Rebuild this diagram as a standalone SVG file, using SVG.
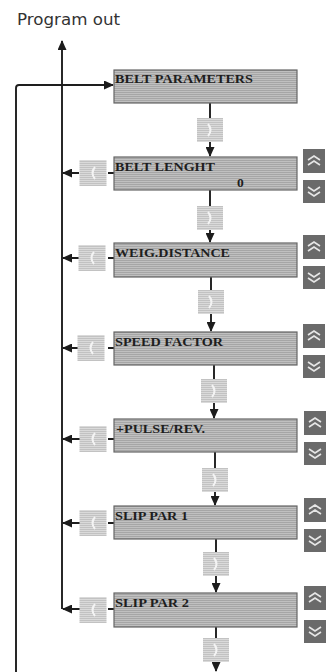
<svg xmlns="http://www.w3.org/2000/svg" width="335" height="672" viewBox="0 0 335 672">
<defs>
<pattern id="hatch" width="3" height="2" patternUnits="userSpaceOnUse">
<rect width="3" height="2" fill="#c0c0c0"/>
<rect width="3" height="1" fill="#a6a6a6"/>
</pattern>
<pattern id="lhatch" width="2" height="2" patternUnits="userSpaceOnUse">
<rect width="2" height="2" fill="#dadada"/>
<rect width="2" height="1" fill="#c2c2c2"/>
</pattern>
<marker id="ah" markerWidth="10" markerHeight="9" refX="9" refY="4.5" orient="auto" markerUnits="userSpaceOnUse">
<path d="M0,0 L10,4.5 L0,9 z" fill="#1c1c1c"/>
</marker>
<g id="fwd"><rect x="-13" y="-12" width="26" height="24" class="nx"/><path d="M-2,-6 Q3,0 -2,6" class="ch"/></g>
<g id="back"><rect x="-13.5" y="-13" width="27" height="26" class="nx"/><path d="M2,-6 Q-3,0 2,6" class="ch"/></g>
<g id="up"><rect x="0" y="0" width="22" height="24" class="btn"/><path d="M5,11 L11,7 L17,11 M5,16 L11,12 L17,16" class="bch"/></g>
<g id="dn"><rect x="0" y="0" width="22" height="23" class="btn"/><path d="M5,7 L11,11 L17,7 M5,12 L11,16 L17,12" class="bch"/></g>
</defs>
<style>
.box{fill:url(#hatch);stroke:#666;stroke-width:1.2}
.lbl{font-family:"Liberation Serif",serif;font-weight:bold;font-size:13.5px;fill:#1e1e1e}
.nx{fill:url(#lhatch)}
.ch{fill:none;stroke:#f4f4f4;stroke-width:2}
.btn{fill:#6a6a6a}
.bch{fill:none;stroke:#e6e6e6;stroke-width:1.6}
.ln{fill:none;stroke:#1e1e1e;stroke-width:1.9}
.ttl{font-family:"DejaVu Sans",Verdana,sans-serif;font-size:15px;fill:#333}
</style>
<text class="ttl" x="17" y="25" textLength="103" lengthAdjust="spacingAndGlyphs">Program out</text>

<g id="connectors">
<path class="ln" d="M62,609 L62,41" marker-end="url(#ah)"/>
<path class="ln" d="M16,672 L16,88 Q16,85 19,85 L113,85" marker-end="url(#ah)"/>
<path class="ln" d="M210,103 L210,118 M210,142 L210,156" marker-end="url(#ah)"/>
<path class="ln" d="M210,190 L210,206 M210,230 L210,242" marker-end="url(#ah)"/>
<path class="ln" d="M211,277 L211,290 M211,314 L211,331" marker-end="url(#ah)"/>
<path class="ln" d="M214,365 L214,379 M214,403 L214,418" marker-end="url(#ah)"/>
<path class="ln" d="M215,452 L215,468 M215,492 L215,505" marker-end="url(#ah)"/>
<path class="ln" d="M216,539 L216,552 M216,576 L216,592" marker-end="url(#ah)"/>
<path class="ln" d="M216,627 L216,638 M216,662 L216,671" marker-end="url(#ah)"/>
<path class="ln" d="M108,173 L114,173 M79,173 L63,173" marker-end="url(#ah)"/>
<path class="ln" d="M108,258 L114,258 M79,258 L63,258" marker-end="url(#ah)"/>
<path class="ln" d="M108,348 L114,348 M78,348 L63,348" marker-end="url(#ah)"/>
<path class="ln" d="M108,439 L114,439 M80,439 L63,439" marker-end="url(#ah)"/>
<path class="ln" d="M108,523 L114,523 M80,523 L63,523" marker-end="url(#ah)"/>
<path class="ln" d="M108,609 L114,609 M80,609 L63,609" marker-end="url(#ah)"/>
</g>

<g id="n1"><rect class="box" x="114" y="70" width="183" height="33"/><text class="lbl" x="115" y="83" textLength="138" lengthAdjust="spacingAndGlyphs">BELT PARAMETERS</text></g>
<g id="f1"><use href="#fwd" x="210" y="130"/></g>

<g id="n2"><rect class="box" x="114" y="157" width="183" height="33"/><text class="lbl" x="115" y="171" textLength="100" lengthAdjust="spacingAndGlyphs">BELT LENGHT</text><text class="lbl" x="237" y="187">0</text></g>
<g id="f2"><use href="#fwd" x="210" y="218"/></g>
<g id="b2"><use href="#back" x="93" y="173"/></g>
<g id="u2"><use href="#up" x="303" y="149"/><use href="#dn" x="303" y="180"/></g>

<g id="n3"><rect class="box" x="114" y="243" width="183" height="34"/><text class="lbl" x="115" y="257" textLength="115" lengthAdjust="spacingAndGlyphs">WEIG.DISTANCE</text></g>
<g id="f3"><use href="#fwd" x="211" y="302"/></g>
<g id="b3"><use href="#back" x="92" y="258"/></g>
<g id="u3"><use href="#up" x="303" y="235"/><use href="#dn" x="303" y="266"/></g>

<g id="n4"><rect class="box" x="114" y="332" width="183" height="33"/><text class="lbl" x="115" y="346" textLength="108" lengthAdjust="spacingAndGlyphs">SPEED FACTOR</text></g>
<g id="f4"><use href="#fwd" x="214" y="391"/></g>
<g id="b4"><use href="#back" x="91" y="348"/></g>
<g id="u4"><use href="#up" x="303" y="324"/><use href="#dn" x="303" y="355"/></g>

<g id="n5"><rect class="box" x="114" y="419" width="183" height="33"/><text class="lbl" x="116" y="433" textLength="89" lengthAdjust="spacingAndGlyphs">+PULSE/REV.</text></g>
<g id="f5"><use href="#fwd" x="215" y="480"/></g>
<g id="b5"><use href="#back" x="93" y="439"/></g>
<g id="u5"><use href="#up" x="304" y="411"/><use href="#dn" x="304" y="442"/></g>

<g id="n6"><rect class="box" x="114" y="506" width="183" height="33"/><text class="lbl" x="115" y="520" textLength="73" lengthAdjust="spacingAndGlyphs">SLIP PAR 1</text></g>
<g id="f6"><use href="#fwd" x="216" y="564"/></g>
<g id="b6"><use href="#back" x="93" y="523"/></g>
<g id="u6"><use href="#up" x="304" y="498"/><use href="#dn" x="304" y="529"/></g>

<g id="n7"><rect class="box" x="114" y="593" width="183" height="34"/><text class="lbl" x="115" y="607" textLength="74" lengthAdjust="spacingAndGlyphs">SLIP PAR 2</text></g>
<g id="f7"><use href="#fwd" x="216" y="650"/></g>
<g id="b7"><use href="#back" x="93" y="610"/></g>
<g id="u7"><use href="#up" x="304" y="586"/><use href="#dn" x="304" y="620"/></g>
</svg>
